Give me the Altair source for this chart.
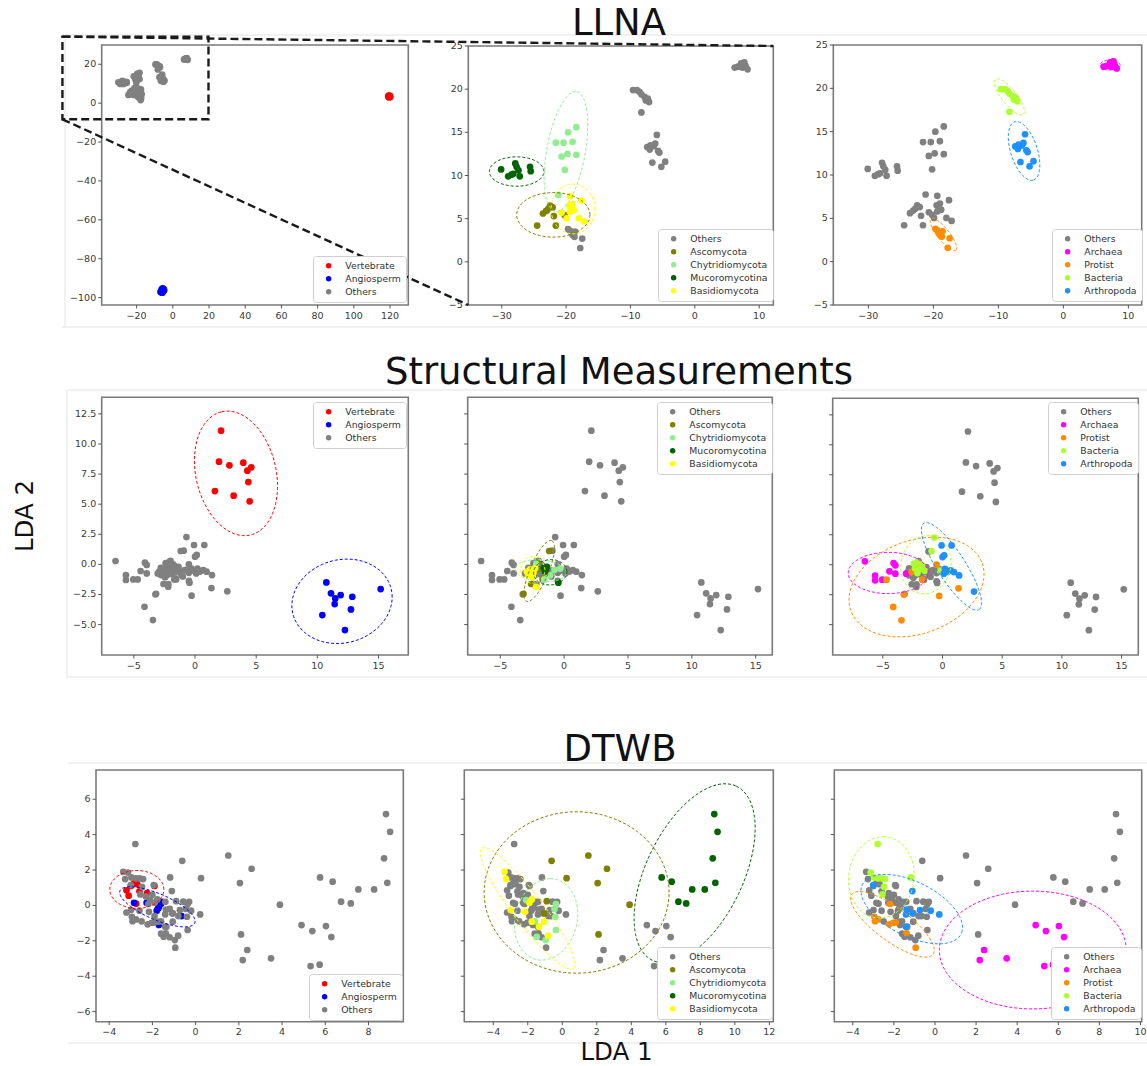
import math
import altair as alt
import pandas as pd

W, H = 1147, 1066
FONT = "DejaVu Sans"

# ---------------- legend categories and colours ----------------
VA_LEGEND = ["Vertebrate", "Angiosperm", "Others"]
VA_COLORS = ["#ff0000", "#0000ff", "#808080"]
FUNGI_LEGEND = ["Others", "Ascomycota", "Chytridiomycota", "Mucoromycotina", "Basidiomycota"]
FUNGI_COLORS = ["#808080", "#808000", "#90ee90", "#006400", "#ffff00"]
KING_LEGEND = ["Others", "Archaea", "Protist", "Bacteria", "Arthropoda"]
KING_COLORS = ["#808080", "#ff00ff", "#ff8c00", "#adff2f", "#1e90ff"]

ROW_TITLES = ["LLNA", "Structural Measurements", "DTWB"]
X_TITLE = "LDA 1"
Y_TITLE = "LDA 2"

# ---------------- LLNA points (LDA1, LDA2) ----------------
LLNA_VERTEBRATE = [(119.0, 3.6), (119.4, 3.0), (119.8, 3.4), (120.1, 3.1), (119.6, 3.8),
                   (119.2, 3.3), (119.9, 3.7), (119.5, 3.2), (120.0, 3.5), (119.3, 3.9)]
LLNA_ANGIOSPERM = [(-6.5, -97.3), (-6.0, -96.5), (-5.5, -95.5), (-5.0, -95.8), (-5.3, -96.8),
                   (-6.2, -95.8), (-4.8, -96.2), (-6.8, -97.0), (-5.8, -97.5), (-5.6, -95.2)]
LLNA_ASCOMYCOTA = [(-24.5, 4.2), (-23.6, 5.6), (-23.1, 5.9), (-22.8, 6.1), (-22.5, 6.5),
                   (-22.1, 6.3), (-21.9, 5.3), (-21.6, 4.2), (-20.2, 5.4)]
LLNA_CHYTRIDIOMYCOTA = [(-21.6, 13.8), (-20.4, 13.8), (-19.7, 15.0), (-18.4, 15.6), (-19.0, 13.9),
                        (-20.7, 12.2), (-19.8, 12.5), (-18.4, 12.4), (-20.2, 10.65), (-21.2, 7.75)]
LLNA_MUCOROMYCOTINA = [(-30.1, 10.7), (-29.0, 9.9), (-28.5, 10.1), (-27.9, 11.4), (-27.7, 11.0),
                       (-27.4, 10.6), (-27.2, 9.9), (-28.2, 10.2), (-25.6, 11.0), (-25.5, 10.5)]
LLNA_BASIDIOMYCOTA = [(-19.4, 7.6), (-19.5, 6.5), (-19.0, 6.7), (-18.8, 6.0), (-19.4, 5.8),
                      (-19.9, 5.05), (-20.7, 5.7), (-17.6, 7.1), (-18.0, 5.05), (-17.2, 4.7)]
LLNA_ARCHAEA = [(6.2, 22.5), (6.7, 22.6), (7.2, 23.0), (7.7, 23.1), (7.9, 22.7), (8.2, 22.3),
                (7.4, 22.5), (7.0, 22.6)]
LLNA_PROTIST = [(-19.7, 3.8), (-19.4, 3.6), (-19.2, 3.4), (-19.0, 3.1), (-18.7, 2.9), (-18.6, 3.5),
                (-17.5, 2.7), (-17.8, 1.6)]
LLNA_BACTERIA = [(-9.6, 19.9), (-9.0, 19.9), (-8.6, 19.7), (-8.3, 19.4), (-7.8, 19.1), (-7.3, 18.9),
                 (-7.1, 18.5), (-7.6, 18.7), (-8.3, 17.3)]
LLNA_ARTHROPODA = [(-5.9, 14.7), (-6.9, 13.5), (-6.4, 13.4), (-6.15, 13.7), (-7.0, 13.0), (-5.7, 12.85),
                   (-5.5, 12.65), (-6.6, 11.5), (-4.6, 11.6), (-5.2, 11.0), (-7.4, 13.3)]
LLNA_UNASSIGNED = []

# ---------------- Structural Measurements points ----------------
SM_VERTEBRATE = [(2.13, 11.11), (1.96, 8.53), (2.81, 8.23), (3.95, 8.45), (4.28, 7.78), (4.60, 8.06),
                 (4.36, 6.84), (1.63, 6.09), (3.16, 5.71), (4.47, 5.24)]
SM_ANGIOSPERM = [(10.74, -1.50), (11.12, -2.41), (11.47, -2.83), (11.91, -2.55), (11.42, -3.30),
                 (10.41, -4.21), (12.86, -2.69), (12.75, -3.74), (12.26, -5.46), (15.18, -2.05)]
SM_ASCOMYCOTA = [(-1.17, 1.11), (-2.08, 0.14), (-2.58, -1.63), (-3.18, -2.45), (-2.0, -0.33), (-1.6, -1.16)]
SM_CHYTRIDIOMYCOTA = [(-0.3, -0.35), (-0.75, -0.45), (-1.55, -1.25), (-2.2, 0.05), (-1.1, -0.9)]
SM_MUCOROMYCOTINA = [(-1.4, -0.45), (-1.35, -0.2), (-1.5, -0.6), (-0.45, -1.52), (-1.6, -0.3)]
SM_BASIDIOMYCOTA = [(-2.92, -0.61), (-2.66, -0.42), (-2.4, -0.7), (-2.45, -1.08), (-2.19, -1.86),
                    (-2.79, -0.89), (-2.27, -0.33)]
SM_ARCHAEA = [(-6.5, 0.28), (-5.65, -0.9), (-5.65, -1.3), (-5.05, -1.25), (-4.45, -0.55), (-4.1, 0.14),
              (-3.95, -0.05), (-3.95, -0.75), (-3.05, -0.75)]
SM_PROTIST = [(-4.69, -1.25), (-3.24, -2.49), (-4.13, -3.52), (-3.44, -4.63), (-2.6, -0.61), (-1.70, -1.25),
              (-0.50, 0.0), (-0.28, -2.60), (1.34, -1.97)]
SM_BACTERIA = [(-0.70, 2.27), (-0.92, 1.14), (-2.4, 0.1), (-2.1, 0.2), (-1.8, 0.0), (-2.3, -0.3),
               (-2.0, -0.4), (-1.7, -0.1), (-1.5, -0.5), (-2.1, -0.7), (-0.2, -0.5)]
SM_ARTHROPODA = [(-0.08, 1.61), (0.76, 1.61), (0.0, 0.64), (0.14, 0.78), (0.2, -0.35), (0.41, -0.6),
                 (0.68, -0.47), (0.95, -0.61), (1.39, -0.89), (2.64, -2.24), (0.1, -0.75)]
SM_UNASSIGNED = [(-2.6, -0.5), (-2.3, -0.9), (-1.9, -0.8), (-1.2, -0.7), (-0.9, -0.5), (-2.8, -0.3),
                 (-1.0, -1.0), (-2.0, 0.3), (-0.5, -0.7), (-2.18, -1.63), (-0.5, -1.38)]

# ---------------- DTWB points ----------------
DT_VERTEBRATE = [(-3.2, 0.85), (-3.0, 1.1), (-2.85, 1.25), (-2.7, 1.2), (-2.6, 0.8), (-2.25, 0.7),
                 (-1.9, 1.1), (-3.1, 0.55), (-2.75, 0.1)]
DT_ANGIOSPERM = [(-2.85, 0.15), (-2.27, 0.15), (-1.8, -0.3), (-1.7, -0.1), (-1.6, 0.1), (-1.55, 0.2),
                 (-1.7, -1.1), (-0.65, -0.6), (-1.75, -0.2)]
DT_ASCOMYCOTA = [(-0.62, 2.52), (1.51, 2.82), (2.59, 2.07), (0.25, 1.54), (2.05, 1.26), (3.9, 0.04),
                 (2.1, -1.64), (-0.9, 0.24), (-1.05, -0.45)]
DT_CHYTRIDIOMYCOTA = [(-2.1, 0.3), (-0.37, 0.08), (-0.45, -0.2), (-0.4, -0.64), (-0.37, -1.39),
                      (-1.48, -1.77), (-0.96, -1.96), (-1.6, -0.9)]
DT_MUCOROMYCOTINA = [(8.81, 5.16), (9.0, 4.16), (8.72, 2.66), (8.87, 1.28), (8.26, 0.90), (7.53, 0.90),
                     (6.73, 0.21), (7.18, 0.11), (5.76, 1.58), (6.34, 1.34)]
DT_BASIDIOMYCOTA = [(-3.35, 1.9), (-3.26, 1.49), (-2.99, -0.26), (-2.16, -0.36), (-1.77, 0.34), (-1.9, 0.15),
                    (-1.77, -0.92), (-1.35, -1.2), (-1.06, -0.92), (-0.81, -1.71)]
DT_ARCHAEA = [(4.9, -1.11), (5.4, -1.45), (6.03, -1.17), (6.28, -1.79), (2.39, -2.52), (2.18, -3.09),
              (3.49, -2.99), (5.32, -3.43), (5.74, -3.35)]
DT_PROTIST = [(-2.95, -0.64), (-2.76, -0.79), (-2.92, -0.89), (-2.19, 0.08), (-2.22, -1.07), (-2.03, -0.98),
              (-1.91, -0.96), (-1.38, -1.58), (-0.94, -2.39)]
DT_BACTERIA = [(-2.79, 3.47), (-3.13, 1.86), (-2.97, 1.58), (-2.76, 1.53), (-2.59, 1.53), (-2.43, 1.49),
               (-2.48, 1.05), (-2.56, 0.62), (-1.18, 1.58)]
DT_ARTHROPODA = [(-3.0, 1.15), (-1.1, 0.81), (-1.38, -0.23), (-1.41, -0.51), (-1.09, -0.45), (-0.73, -0.26),
                 (-0.21, -0.3), (0.21, -0.51), (-1.41, -1.21)]
DT_UNASSIGNED = [(-2.3, 0.5), (-2.0, 0.6), (-1.4, 0.2), (-1.2, -0.2), (-0.8, -0.6), (-2.5, -0.9),
                 (-2.6, -0.3), (-1.6, -1.6), (-1.2, -1.8), (-0.3, 0.2), (-1.9, -0.6), (-3.2, -0.4),
                 (-1.94, 1.15), (-0.57, 0.21)]

# ---------------- ellipses: label, centre, two conjugate semi-diameters ----------------
LLNA_FUNGI_ELLIPSES = [
    ("Mucoromycotina", -27.68, 10.46, 4.24, 0.0, 0.0, 1.70),
    ("Chytridiomycota", -20.02, 12.77, 1.66, 6.94, 2.95, -0.39),
    ("Ascomycota", -21.99, 5.44, 5.69, 0.0, 0.0, 2.58),
    ("Basidiomycota", -18.93, 6.13, 3.41, 0.0, 0.0, 2.89),
]
LLNA_KING_ELLIPSES = [
    ("Archaea", 7.18, 22.69, 1.54, 0.0, 0.0, 0.58),
    ("Protist", -18.46, 3.13, 1.90, -1.81, 0.72, 0.43),
    ("Bacteria", -8.31, 19.02, 2.15, -2.01, 0.88, 0.53),
    ("Arthropoda", -6.05, 12.77, 1.44, -3.36, 1.95, 0.47),
]
SM_VA_ELLIPSES = [
    ("Vertebrate", 3.35, 7.56, -1.17, 5.12, 3.19, 0.75),
    ("Angiosperm", 12.02, -3.07, 4.10, 0.35, 0.0, 3.49),
]
SM_FUNGI_ELLIPSES = [
    ("Ascomycota", -1.95, -0.55, 0.99, 2.52, 0.67, -0.30),
    ("Chytridiomycota", -1.82, -0.53, 2.0, -0.15, 0.0, 0.9),
    ("Mucoromycotina", -1.09, -0.66, 1.30, 0.05, 0.0, 1.05),
    ("Basidiomycota", -2.47, -0.47, 0.96, 0.0, 0.0, 1.1),
]
SM_KING_ELLIPSES = [
    ("Archaea", -4.55, -0.69, 3.35, 0.0, 0.0, 1.72),
    ("Protist", -2.18, -1.86, 5.50, 1.99, 1.33, -3.65),
    ("Bacteria", -1.40, 0.0, 0.56, 2.38, 2.04, -0.47),
    ("Arthropoda", 0.75, -0.14, 2.32, -3.60, 0.99, 0.63),
]
DT_VA_ELLIPSES = [
    ("Vertebrate", -2.72, 0.90, 1.25, 0.0, 0.0, 1.07),
    ("Angiosperm", -1.77, -0.08, 1.73, -0.70, -0.23, 0.89),
]
DT_FUNGI_ELLIPSES = [
    ("Ascomycota", 0.83, 0.73, 5.36, 0.0, 0.0, 4.56),
    ("Chytridiomycota", -0.94, -0.79, 0.25, 2.3, 1.82, 0.0),
    ("Mucoromycotina", 7.67, 1.81, 2.41, 4.93, 2.55, -1.15),
    ("Basidiomycota", -2.02, -0.17, 2.66, -3.39, 0.69, 0.52),
]
DT_KING_ELLIPSES = [
    ("Archaea", 4.76, -2.52, 4.55, 0.0, 0.0, 3.33),
    ("Protist", -2.07, -1.07, 1.98, -1.69, 0.48, 0.76),
    ("Bacteria", -2.61, 1.58, 0.1, 2.3, 1.6, 0.0),
    ("Arthropoda", -1.13, -0.21, 2.43, -1.32, 0.45, 1.45),
]

# ---------------- axes: domains and ticks ----------------
X_DOMAINS = [[(-39.3, 130.1), (-35.2, 12.2), (-35.4, 12.05)],
             [(-7.63, 17.44), (-7.55, 16.3), (-9.2, 16.4)],
             [(-4.61, 9.61), (-5.68, 12.23), (-4.9, 10.06)]]
Y_DOMAINS = [[(-103.8, 29.9), (-5.0, 25.0), (-5.0, 25.0)],
             [(-7.53, 13.88), (-7.53, 13.88), (-7.53, 13.88)],
             [(-6.57, 7.65), (-6.57, 7.65), (-6.57, 7.65)]]
X_TICKS = [[[-20, 0, 20, 40, 60, 80, 100, 120], [-30, -20, -10, 0, 10], [-30, -20, -10, 0, 10]],
           [[-5, 0, 5, 10, 15]] * 3,
           [[-4, -2, 0, 2, 4, 6, 8], [-4, -2, 0, 2, 4, 6, 8, 10, 12], [-4, -2, 0, 2, 4, 6, 8, 10]]]
Y_TICKS = [[[-100, -80, -60, -40, -20, 0, 20], [-5, 0, 5, 10, 15, 20, 25], [-5, 0, 5, 10, 15, 20, 25]],
           [[-5, -2.5, 0, 2.5, 5, 7.5, 10, 12.5]] * 3,
           [[-6, -4, -2, 0, 2, 4, 6]] * 3]
Y_DECIMALS = [0, 1, 0]
Y_LABELS_SHOWN = [[True, True, True], [True, False, False], [True, False, False]]

# ---------------- layout (pixels: left, right, top, bottom) ----------------
PANEL_BOXES = [[(101.7, 408.3, 45, 305), (468.3, 773.3, 46, 305), (833.3, 1141.7, 45, 305)],
               [(101.7, 408.3, 397.3, 655), (467.7, 772.3, 397.3, 655), (832.7, 1138.3, 398.3, 655)],
               [(96, 403.3, 770, 1021.7), (464.3, 773.3, 770, 1021.7), (834.3, 1141.7, 770, 1021.7)]]
LEGEND_POS = [[(313, 256), (658, 229), (1052, 229)],
              [(313, 402), (657, 402), (1048, 402)],
              [(309, 974), (657, 947), (1051, 947)]]
TITLE_POS = [(619, 35), (619, 384), (620, 761)]
# zoom window drawn on the first LLNA panel (data units of that panel)
ZOOM_WINDOW = (-61.0, 19.7, -8.3, 34.2)

TICK_LEN = 3.5
AX_COLOR = "#555555"
LABEL_COLOR = "#3a3a3a"
FRAME_COLOR = "#7a7a7a"


def fmt(v, dec):
    s = f"{v:.{dec}f}"
    return s.replace("-", "\u2212")


def points_frame(groups):
    rows = []
    for name, pts in groups.items():
        for x, y in pts:
            rows.append({"x": x, "y": y, "group": name})
    return pd.DataFrame(rows)


def ellipse_frame(ells, n=96):
    rows = []
    for name, cx, cy, ux, uy, vx, vy in ells:
        for i in range(n + 1):
            t = 2 * math.pi * i / n
            rows.append({"x": cx + ux * math.cos(t) + vx * math.sin(t),
                         "y": cy + uy * math.cos(t) + vy * math.sin(t),
                         "label": name, "i": i})
    return pd.DataFrame(rows)


ROWS = [
    dict(groups={"Vertebrate": LLNA_VERTEBRATE, "Angiosperm": LLNA_ANGIOSPERM,
                 "Ascomycota": LLNA_ASCOMYCOTA, "Chytridiomycota": LLNA_CHYTRIDIOMYCOTA,
                 "Mucoromycotina": LLNA_MUCOROMYCOTINA, "Basidiomycota": LLNA_BASIDIOMYCOTA,
                 "Archaea": LLNA_ARCHAEA, "Protist": LLNA_PROTIST, "Bacteria": LLNA_BACTERIA,
                 "Arthropoda": LLNA_ARTHROPODA, "Unassigned": LLNA_UNASSIGNED},
         ellipses=[[], LLNA_FUNGI_ELLIPSES, LLNA_KING_ELLIPSES]),
    dict(groups={"Vertebrate": SM_VERTEBRATE, "Angiosperm": SM_ANGIOSPERM,
                 "Ascomycota": SM_ASCOMYCOTA, "Chytridiomycota": SM_CHYTRIDIOMYCOTA,
                 "Mucoromycotina": SM_MUCOROMYCOTINA, "Basidiomycota": SM_BASIDIOMYCOTA,
                 "Archaea": SM_ARCHAEA, "Protist": SM_PROTIST, "Bacteria": SM_BACTERIA,
                 "Arthropoda": SM_ARTHROPODA, "Unassigned": SM_UNASSIGNED},
         ellipses=[SM_VA_ELLIPSES, SM_FUNGI_ELLIPSES, SM_KING_ELLIPSES]),
    dict(groups={"Vertebrate": DT_VERTEBRATE, "Angiosperm": DT_ANGIOSPERM,
                 "Ascomycota": DT_ASCOMYCOTA, "Chytridiomycota": DT_CHYTRIDIOMYCOTA,
                 "Mucoromycotina": DT_MUCOROMYCOTINA, "Basidiomycota": DT_BASIDIOMYCOTA,
                 "Archaea": DT_ARCHAEA, "Protist": DT_PROTIST, "Bacteria": DT_BACTERIA,
                 "Arthropoda": DT_ARTHROPODA, "Unassigned": DT_UNASSIGNED},
         ellipses=[DT_VA_ELLIPSES, DT_FUNGI_ELLIPSES, DT_KING_ELLIPSES]),
]
PANEL_KINDS = [(VA_LEGEND, VA_COLORS, ["Vertebrate", "Angiosperm", "Others"]),
               (FUNGI_LEGEND, FUNGI_COLORS, FUNGI_LEGEND),
               (KING_LEGEND, KING_COLORS, KING_LEGEND)]


def make_panel(r, c):
    row = ROWS[r]
    legend_order, colors, draw_order = PANEL_KINDS[c]
    L, R, T, B = PANEL_BOXES[r][c]
    xd, yd = X_DOMAINS[r][c], Y_DOMAINS[r][c]
    xs = alt.Scale(domain=list(xd), range=[L, R], zero=False, nice=False)
    ys = alt.Scale(domain=list(yd), range=[B, T], zero=False, nice=False)

    df = points_frame(row["groups"])
    df["label"] = df["group"].where(df["group"].isin(legend_order), "Others")
    df["z"] = df["label"].map({lab: i for i, lab in enumerate(draw_order)})
    df = df[(df.x >= xd[0]) & (df.x <= xd[1]) & (df.y >= yd[0]) & (df.y <= yd[1])]

    lx, ly = LEGEND_POS[r][c]
    leg = alt.Legend(title=None, orient="none", legendX=lx, legendY=ly, symbolType="circle",
                     symbolSize=30, symbolStrokeWidth=0, symbolOffset=6, labelOffset=12,
                     labelFont=FONT, labelFontSize=9.3, labelColor="#333333", padding=5, rowPadding=3,
                     strokeColor="#cfcfcf", fillColor="#ffffff", cornerRadius=3)

    frame = alt.Chart(pd.DataFrame({"x0": [xd[0]], "x1": [xd[1]], "y0": [yd[0]], "y1": [yd[1]]})).mark_rect(
        fillOpacity=0, stroke=FRAME_COLOR, strokeWidth=1.6
    ).encode(
        x=alt.X("x0:Q", scale=xs, axis=None), x2="x1",
        y=alt.Y("y0:Q", scale=ys, axis=None), y2="y1",
    )

    # ticks and tick labels, placed through the panel scales
    xt = pd.DataFrame({"v": X_TICKS[r][c], "t": [fmt(v, 0) for v in X_TICKS[r][c]]})
    yt = pd.DataFrame({"v": Y_TICKS[r][c], "t": [fmt(v, Y_DECIMALS[r]) for v in Y_TICKS[r][c]]})
    xtick = alt.Chart(xt).mark_rule(color=AX_COLOR, strokeWidth=1).encode(
        x=alt.X("v:Q", scale=xs, axis=None), y=alt.value(B), y2=alt.value(B + TICK_LEN))
    xlab = alt.Chart(xt).mark_text(font=FONT, fontSize=9.5, color=LABEL_COLOR, align="center",
                                   baseline="top").encode(
        x=alt.X("v:Q", scale=xs, axis=None), y=alt.value(B + TICK_LEN + 2), text="t:N")
    ytick = alt.Chart(yt).mark_rule(color=AX_COLOR, strokeWidth=1).encode(
        y=alt.Y("v:Q", scale=ys, axis=None), x=alt.value(L - TICK_LEN), x2=alt.value(L))
    parts = [frame, xtick, xlab, ytick]
    if Y_LABELS_SHOWN[r][c]:
        ylab = alt.Chart(yt).mark_text(font=FONT, fontSize=9.5, color=LABEL_COLOR, align="right",
                                       baseline="middle").encode(
            y=alt.Y("v:Q", scale=ys, axis=None), x=alt.value(L - TICK_LEN - 2), text="t:N")
        parts.append(ylab)

    pts = alt.Chart(df).mark_circle(size=45, opacity=1).encode(
        x=alt.X("x:Q", scale=xs, axis=None),
        y=alt.Y("y:Q", scale=ys, axis=None),
        color=alt.Color("label:N", scale=alt.Scale(domain=legend_order, range=colors), legend=leg),
        order=alt.Order("z:Q"),
    )
    parts.append(pts)
    if row["ellipses"][c]:
        edf = ellipse_frame(row["ellipses"][c])
        ell = alt.Chart(edf).mark_line(strokeDash=[3, 2], strokeWidth=1).encode(
            x=alt.X("x:Q", scale=xs, axis=None),
            y=alt.Y("y:Q", scale=ys, axis=None),
            stroke=alt.Stroke("label:N", scale=alt.Scale(domain=legend_order, range=colors), legend=None),
            order=alt.Order("i:Q"),
        )
        parts.append(ell)
    return alt.layer(*parts)


def px(v, dom, rng):
    return rng[0] + (v - dom[0]) / (dom[1] - dom[0]) * (rng[1] - rng[0])


def pix_x(field):
    return alt.X(field, type="quantitative", scale=None, axis=None)


def pix_y(field):
    return alt.Y(field, type="quantitative", scale=None, axis=None)


layers = []

# faint borders of the original screenshot tiles
SHOT_LINES = [(62, 35, 1147, 35), (65, 35, 65, 327), (62, 327, 1147, 327),
              (67, 390, 1147, 390), (67, 390, 67, 677), (67, 677, 1147, 677),
              (68, 763, 1147, 763), (68, 1043, 1147, 1043)]
shot = pd.DataFrame(SHOT_LINES, columns=["x", "y", "x2", "y2"])
layers.append(alt.Chart(shot).mark_rule(color="#e3e3e3", strokeWidth=1).encode(
    x=pix_x("x"), y=pix_y("y"), x2="x2", y2="y2"))

for r in range(3):
    for c in range(3):
        layers.append(make_panel(r, c))

# zoom window and connector lines
L1, R1, T1, B1 = PANEL_BOXES[0][0]
L2, R2, T2, B2 = PANEL_BOXES[0][1]
zx0 = px(ZOOM_WINDOW[0], X_DOMAINS[0][0], (L1, R1))
zx1 = px(ZOOM_WINDOW[1], X_DOMAINS[0][0], (L1, R1))
zy0 = px(ZOOM_WINDOW[2], Y_DOMAINS[0][0], (B1, T1))
zy1 = px(ZOOM_WINDOW[3], Y_DOMAINS[0][0], (B1, T1))
zoom_rect = pd.DataFrame({"x": [zx0], "x2": [zx1], "y": [zy1], "y2": [zy0]})
layers.append(alt.Chart(zoom_rect).mark_rect(fillOpacity=0, stroke="#1a1a1a", strokeWidth=2.4,
                                             strokeDash=[8, 4]).encode(
    x=pix_x("x"), x2="x2", y=pix_y("y"), y2="y2"))
connectors = pd.DataFrame({"x": [zx0, zx0], "y": [zy1, zy0], "x2": [R2, L2], "y2": [T2, B2]})
layers.append(alt.Chart(connectors).mark_rule(color="#1a1a1a", strokeWidth=2.4, strokeDash=[8, 4]).encode(
    x=pix_x("x"), y=pix_y("y"), x2="x2", y2="y2"))

# row titles
titles = pd.DataFrame({"x": [p[0] for p in TITLE_POS], "y": [p[1] for p in TITLE_POS], "t": ROW_TITLES})
layers.append(alt.Chart(titles).mark_text(font=FONT, fontSize=37, align="center", baseline="alphabetic",
                                          color="#111111").encode(x=pix_x("x"), y=pix_y("y"), text="t:N"))
# axis titles
xt_df = pd.DataFrame({"x": [616.5], "y": [1060], "t": [X_TITLE]})
layers.append(alt.Chart(xt_df).mark_text(font=FONT, fontSize=24.5, align="center", baseline="alphabetic",
                                         color="#111111").encode(x=pix_x("x"), y=pix_y("y"), text="t:N"))
yt_df = pd.DataFrame({"x": [33], "y": [516], "t": [Y_TITLE]})
layers.append(alt.Chart(yt_df).mark_text(font=FONT, fontSize=24.5, align="center", baseline="alphabetic",
                                         angle=270, color="#111111").encode(x=pix_x("x"), y=pix_y("y"),
                                                                            text="t:N"))

chart = alt.layer(*layers).resolve_scale(
    x="independent", y="independent", color="independent", stroke="independent"
).properties(width=W, height=H, autosize="none", padding=0).configure_view(stroke=None)

chart.save("out.html", embed_options={"renderer": "svg", "actions": False})
